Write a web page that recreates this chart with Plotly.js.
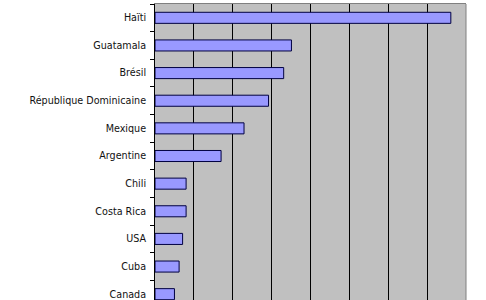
<!DOCTYPE html>
<html>
<head>
<meta charset="utf-8">
<script src="https://cdn.plot.ly/plotly-3.0.1.min.js"></script>
<style>
html, body { margin: 0; padding: 0; overflow: hidden; background: #fff; }
#chart { width: 486px; height: 338px; }
</style>
</head>
<body>
<div id="chart"></div>
<script>
const countries = ["Haïti", "Guatamala", "Brésil", "République Dominicaine", "Mexique", "Argentine", "Chili", "Costa Rica", "USA", "Cuba", "Canada"];
const values = [7.61, 3.51, 3.31, 2.92, 2.29, 1.70, 0.80, 0.80, 0.71, 0.62, 0.50];

const trace = {
  type: "bar",
  orientation: "h",
  y: countries,
  x: values,
  marker: { color: "#9999ff", line: { color: "#000040", width: 1 } },
  hoverinfo: "skip"
};

const layout = {
  width: 486,
  height: 338,
  margin: { l: 155, r: 20, t: 4, b: 30 },
  paper_bgcolor: "#ffffff",
  plot_bgcolor: "#c0c0c0",
  bargap: 0.6,
  showlegend: false,
  font: { family: "DejaVu Sans, Verdana, sans-serif", size: 9.6, color: "#000000" },
  xaxis: {
    range: [0, 8],
    dtick: 1,
    showgrid: true,
    gridcolor: "#000000",
    gridwidth: 1,
    zeroline: false,
    showline: true,
    linecolor: "#808080",
    linewidth: 1,
    mirror: true,
    showticklabels: false,
    ticks: ""
  },
  yaxis: {
    autorange: "reversed",
    type: "category",
    showgrid: false,
    zeroline: false,
    showline: true,
    linecolor: "#000000",
    linewidth: 1,
    ticks: "outside",
    tickson: "boundaries",
    ticklen: 4,
    tickcolor: "#000000",
    ticklabelstandoff: 6,
    tickfont: { family: "DejaVu Sans, Verdana, sans-serif", size: 9.6, color: "#111111" }
  },
  shapes: [
    { type: "line", xref: "paper", yref: "paper", x0: 1, x1: 1, y0: 0, y1: 1, line: { color: "#808080", width: 1 } }
  ]
};

Plotly.newPlot("chart", [trace], layout, { staticPlot: true, displayModeBar: false });
</script>
</body>
</html>
